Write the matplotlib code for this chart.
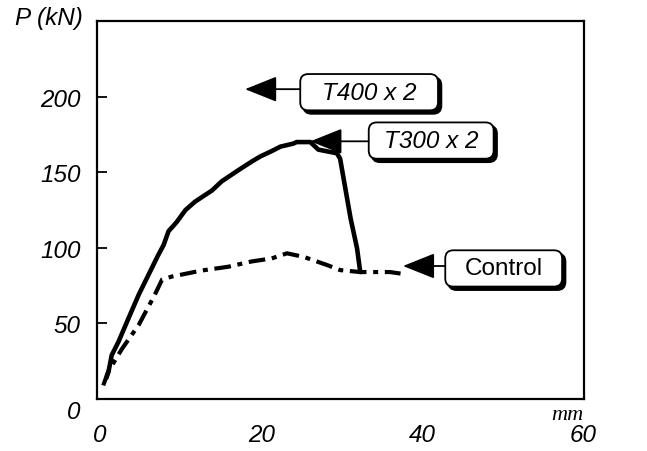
import matplotlib
matplotlib.use("Agg")
import matplotlib.pyplot as plt
from matplotlib.patches import FancyBboxPatch
from matplotlib.transforms import ScaledTranslation

# ---- data ----
t300_x = [0.8, 1.05, 1.45, 2.3, 3.5, 4.8, 6.0, 7.2, 7.9, 8.5, 9.5, 10.6, 11.8, 13.9, 15.1,
          17.2, 18.8, 19.9, 21.3, 22.4, 24.0, 24.4, 26.1, 27.1, 29.4, 29.8, 31.1, 31.9, 32.3]
t300_y = [14, 18, 29, 38, 53, 69, 82, 95, 102, 111, 117, 125, 130.6, 138, 144,
          151.5, 157, 160.5, 164, 167, 169, 170, 170, 165, 162.6, 159, 119.5, 99.7, 84]

ctrl_x = [0.4, 1.0, 2.7, 4.8, 6.8, 7.7, 8.9, 12.6, 15.9, 18.8, 21.3, 23.2, 25.3, 28.2,
          29.8, 32.3, 36.0, 37.3]
ctrl_y = [9, 18, 33, 49, 69, 79, 81, 85, 87.5, 91, 93, 96.4, 94, 88.6,
          85.3, 84, 84, 83]

xticks = [0, 20, 40, 60]
yticks = [0, 50, 100, 150, 200]

labels = ["T400 x 2", "T300 x 2", "Control"]
label_italic = [True, True, False]
arrow_tips = [(18.0, 205), (26.1, 170.5), (37.6, 88)]
box_centers = [(33.4, 203), (41.1, 171), (50.1, 86.4)]
box_widths = [17.1, 15.5, 14.5]   # x units
box_height = 24                    # y units

# ---- figure ----
fig = plt.figure(figsize=(6.47, 4.52), dpi=100)
ax = fig.add_axes([0.150, 0.115, 0.753, 0.836])
ax.set_xlim(-0.37, 60.1)
ax.set_ylim(0, 250)

for s in ax.spines.values():
    s.set_linewidth(1.6)

font = "Liberation Sans"
fs = 17.5

ax.plot(t300_x, t300_y, color="black", lw=3.3, solid_capstyle="round",
        solid_joinstyle="round", zorder=3)
ax.plot(ctrl_x, ctrl_y, color="black", lw=3.0, linestyle=(0, (4, 1.6, 1.2, 1.6)), zorder=3)

# ticks
ax.set_xticks(xticks)
ax.set_xticklabels([str(v) for v in xticks], fontsize=fs, fontstyle="italic", family=font)
ax.tick_params(axis="x", which="major", length=0, pad=17)
ax.set_xticks([20, 40], minor=True)
ax.tick_params(axis="x", which="minor", direction="in", length=7, width=1.3)

ax.set_yticks(yticks)
ax.set_yticklabels([str(v) for v in yticks], fontsize=fs, fontstyle="italic", family=font)
ax.tick_params(axis="y", which="major", direction="in", length=7, width=1.3, pad=12)

for lab in ax.get_yticklabels():
    if lab.get_text() == "0":
        lab.set_transform(lab.get_transform() + ScaledTranslation(0, -10 / 100, fig.dpi_scale_trans))

# axis texts
fig.text(15 / 647, 1 - 18 / 452, "P (kN)", fontsize=fs, fontstyle="italic", family=font,
         ha="left", va="center")
ax.text(60.0, -4, "mm", fontsize=16, fontstyle="italic", family="Liberation Serif",
        ha="right", va="top")

# annotation boxes with shadow and arrows
dx_sh, dy_sh = 0.4, -2.2
for lab, it, tip, c, w in zip(labels, label_italic, arrow_tips, box_centers, box_widths):
    x0 = c[0] - w / 2
    y0 = c[1] - box_height / 2
    shadow = FancyBboxPatch((x0 + dx_sh, y0 + dy_sh), w, box_height,
                            boxstyle="round,pad=0,rounding_size=1.0", mutation_aspect=5.3,
                            fc="black", ec="black", lw=1.5, zorder=5, clip_on=False)
    box = FancyBboxPatch((x0, y0), w, box_height,
                         boxstyle="round,pad=0,rounding_size=1.0", mutation_aspect=5.3,
                         fc="white", ec="black", lw=1.3, zorder=6, clip_on=False)
    ax.add_patch(shadow)
    ax.add_patch(box)
    ax.text(c[0], c[1], lab, fontsize=fs, fontstyle="italic" if it else "normal",
            family=font, ha="center", va="center", zorder=7)
    ax.annotate("", xy=tip, xytext=(x0, tip[1]),
                arrowprops=dict(arrowstyle="-|>,head_length=1.25,head_width=0.5",
                                mutation_scale=16, color="black", lw=1.3,
                                shrinkA=0, shrinkB=0),
                zorder=6)

fig.savefig("out.png", dpi=100)
